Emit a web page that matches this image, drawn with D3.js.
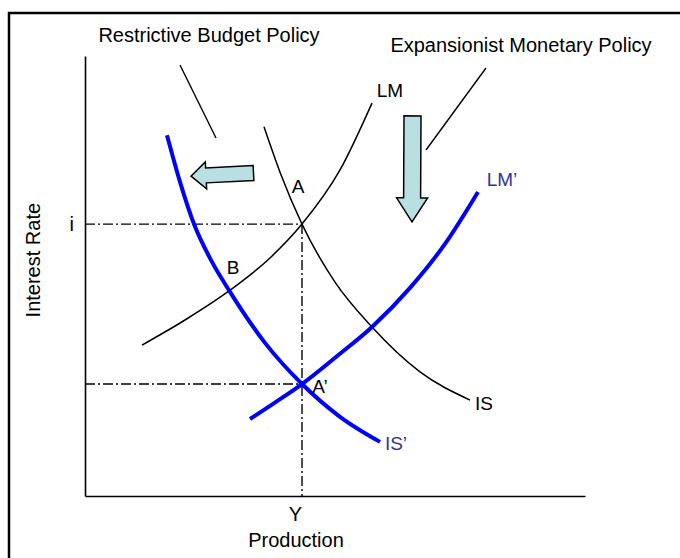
<!DOCTYPE html>
<html>
<head>
<meta charset="utf-8">
<script src="https://cdn.jsdelivr.net/npm/d3@7"></script>
<style>
  body { margin: 0; background: #fff; }
  svg { display: block; font-family: "Liberation Sans", Arial, sans-serif; }
  .curve { fill: none; stroke-linecap: butt; }
  .axis path { stroke: #000; stroke-width: 1.6px; }
  .axis text { font-size: 20px; fill: #000; }
</style>
</head>
<body>
<div id="chart"></div>
<script>
  // curves, in chart units (x: production 0-100, y: interest rate 0-100)
  var lmPoints = [[11.4, 34.3], [20, 40], [28.8, 46.6], [37, 54.1], [43.4, 61.8], [51, 74.1], [57.4, 89.3]];
  var isPoints = [[35.8, 83.9], [39, 73.6], [43.4, 61.8], [50, 48.6], [57.4, 38.4], [67, 28.2], [77, 21.8]];
  var lm2Points = [[33, 17.5], [38.2, 21.4], [43.4, 25.45], [50.2, 31.6], [57.4, 38.4], [65, 47.3], [72, 57.3], [78.6, 69.1]];
  var is2Points = [[16.4, 82], [19, 71.4], [21.8, 61.8], [25.4, 53.2], [29, 46.4], [36, 34.8], [43.4, 25.45], [51, 18], [59, 12.3]];

  // equilibrium values
  var iValues = [61.8, 25.45];
  var yValue = 43.4;
  var iTickLabels = ["i"];
  var yTickLabels = ["Y"];

  // point / curve labels
  var labelNames = ["A", "B", "A\u2019", "LM", "IS", "LM\u2019", "IS\u2019"];
  var labelX = [42.6, 29.6, 47, 61, 79.8, 83.4, 62.2];
  var labelY = [70.5, 52, 25, 92.3, 21.1, 72, 12];

  // policy arrows: [tail, tip]
  var budgetArrow = [[33.7, 73.4], [21.2, 72.7]];
  var monetaryArrow = [[65.5, 86.4], [65.4, 62.3]];

  var width = 680, height = 558;

  var svg = d3.select("#chart").append("svg")
      .attr("width", width)
      .attr("height", height);

  // frame
  svg.append("rect")
      .attr("x", 9).attr("y", 13)
      .attr("width", 700).attr("height", 600)
      .attr("fill", "none")
      .attr("stroke", "#000")
      .attr("stroke-width", 2.5);

  var x = d3.scaleLinear().domain([0, 100]).range([85, 585]);
  var y = d3.scaleLinear().domain([0, 100]).range([496, 56]);

  // axes
  svg.append("g")
      .attr("class", "axis")
      .attr("transform", "translate(0,496)")
      .call(d3.axisBottom(x).tickValues([yValue]).tickSize(0).tickSizeOuter(0)
        .tickPadding(11).tickFormat(function() { return yTickLabels[0]; }))
      .call(function(g) { g.selectAll(".tick text").attr("dx", -7); });

  svg.append("g")
      .attr("class", "axis")
      .attr("transform", "translate(85,0)")
      .call(d3.axisLeft(y).tickValues([iValues[0]]).tickSize(0).tickSizeOuter(0)
        .tickPadding(11).tickFormat(function() { return iTickLabels[0]; }));

  svg.append("text")
      .attr("transform", "translate(" + 40 + "," + y(53.6) + ") rotate(-90)")
      .attr("text-anchor", "middle")
      .attr("font-size", 20)
      .text("Interest Rate");

  svg.append("text")
      .attr("x", 296).attr("y", 547)
      .attr("text-anchor", "middle")
      .attr("font-size", 20)
      .text("Production");

  // dash-dot guide lines
  var guide = svg.append("g")
      .attr("stroke", "#000")
      .attr("stroke-width", 1.4)
      .attr("stroke-dasharray", "10,3,2,3");

  guide.selectAll("line.h")
      .data(iValues)
      .enter().append("line")
      .attr("x1", x(0)).attr("x2", x(yValue))
      .attr("y1", function(d) { return y(d); })
      .attr("y2", function(d) { return y(d); });

  guide.append("line")
      .attr("x1", x(yValue)).attr("x2", x(yValue))
      .attr("y1", y(iValues[0])).attr("y2", y(0));

  // curves
  var line = d3.line()
      .curve(d3.curveMonotoneX)
      .x(function(d) { return x(d[0]); })
      .y(function(d) { return y(d[1]); });

  svg.append("path").datum(lmPoints).attr("class", "curve")
      .attr("stroke", "#000").attr("stroke-width", 1.5).attr("d", line);
  svg.append("path").datum(isPoints).attr("class", "curve")
      .attr("stroke", "#000").attr("stroke-width", 1.5).attr("d", line);
  svg.append("path").datum(lm2Points).attr("class", "curve")
      .attr("stroke", "#0000ff").attr("stroke-width", 4).attr("d", line);
  svg.append("path").datum(is2Points).attr("class", "curve")
      .attr("stroke", "#0000ff").attr("stroke-width", 4).attr("d", line);

  // labels
  svg.selectAll("text.lbl")
      .data(labelNames)
      .enter().append("text")
      .attr("class", "lbl")
      .attr("x", function(d, i) { return x(labelX[i]); })
      .attr("y", function(d, i) { return y(labelY[i]); })
      .attr("dy", "0.36em")
      .attr("text-anchor", "middle")
      .attr("font-size", 19)
      .attr("fill", function(d) { return d.indexOf("\u2019") > 0 && d !== "A\u2019" ? "#333399" : "#000"; })
      .text(function(d) { return d; });

  // policy titles with leader lines
  svg.append("text").attr("x", 209).attr("y", 42)
      .attr("text-anchor", "middle").attr("font-size", 20)
      .text("Restrictive Budget Policy");
  svg.append("text").attr("x", 521).attr("y", 52)
      .attr("text-anchor", "middle").attr("font-size", 20)
      .text("Expansionist Monetary Policy");

  svg.append("line").attr("x1", 180).attr("y1", 65).attr("x2", 216).attr("y2", 138)
      .attr("stroke", "#000").attr("stroke-width", 1.4);
  svg.append("line").attr("x1", 486).attr("y1", 68).attr("x2", 426).attr("y2", 150)
      .attr("stroke", "#000").attr("stroke-width", 1.4);

  // block arrow built from tail/tip
  function blockArrow(pts, shaftW, headW, headL) {
    var x0 = x(pts[0][0]), y0 = y(pts[0][1]);
    var x1 = x(pts[1][0]), y1 = y(pts[1][1]);
    var len = Math.hypot(x1 - x0, y1 - y0);
    var ux = (x1 - x0) / len, uy = (y1 - y0) / len;
    var nx = -uy, ny = ux;
    var hx = x1 - ux * headL, hy = y1 - uy * headL;
    var s = shaftW / 2, h = headW / 2;
    var poly = [
      [x0 + nx * s, y0 + ny * s],
      [hx + nx * s, hy + ny * s],
      [hx + nx * h, hy + ny * h],
      [x1, y1],
      [hx - nx * h, hy - ny * h],
      [hx - nx * s, hy - ny * s],
      [x0 - nx * s, y0 - ny * s]
    ];
    svg.append("path")
        .attr("d", "M" + poly.join("L") + "Z")
        .attr("fill", "#b9dfe2")
        .attr("stroke", "#000")
        .attr("stroke-width", 1.5)
        .attr("stroke-linejoin", "miter");
  }

  blockArrow(budgetArrow, 15, 27, 15);
  blockArrow(monetaryArrow, 17, 31, 24);
</script>
</body>
</html>
